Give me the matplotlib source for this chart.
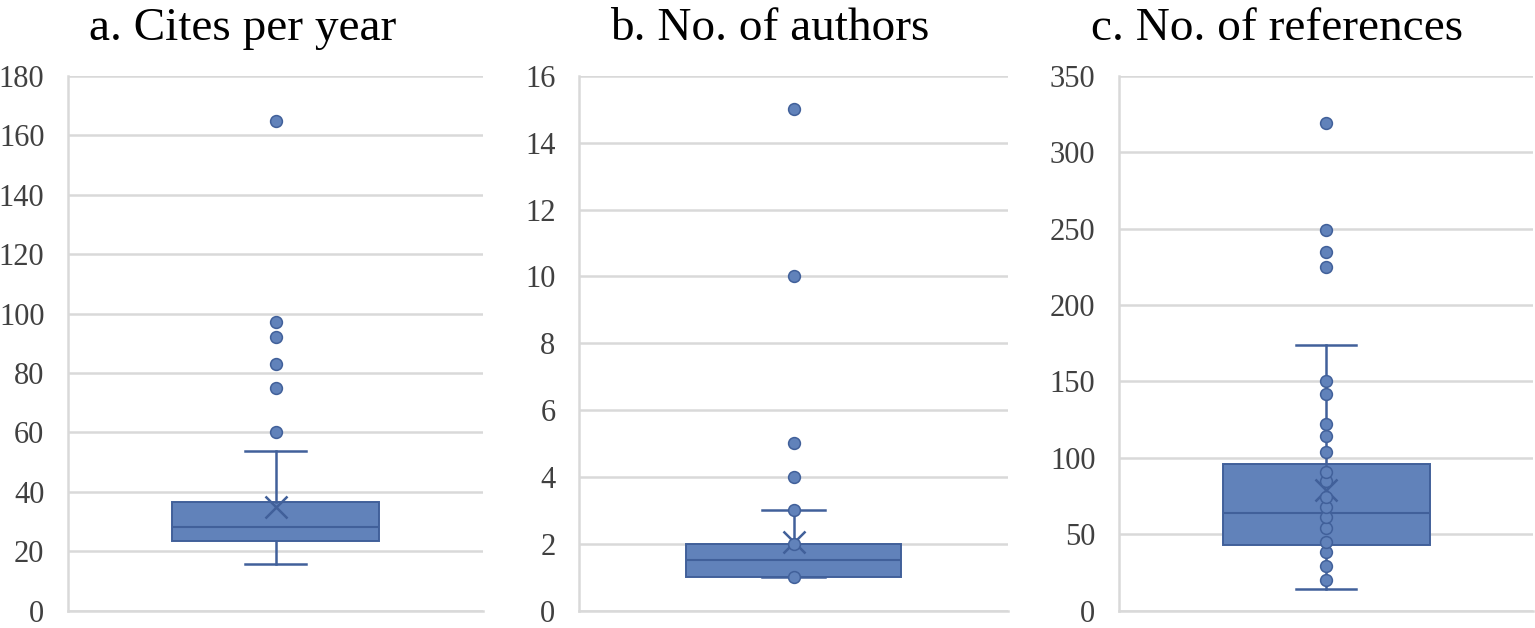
import matplotlib
matplotlib.use("Agg")
import matplotlib.pyplot as plt

# panel titles
titles = ["a. Cites per year", "b. No. of authors", "c. No. of references"]

# box statistics
q1 = [23.5, 1.0, 43]
med = [28, 1.5, 64]
q3 = [36.6, 2.0, 96]
whislo = [15.6, 1.0, 14]
whishi = [53.7, 3.0, 174]
means = [35.0, 2.05, 79]

# points outside the whiskers
fliers_a = [60, 75, 83, 92, 97, 165]
fliers_b = [4, 5, 10, 15]
fliers_c = [225, 235, 249, 319]

# inner points shown by the chart
inner_a = []
inner_b = [1, 2, 3]
inner_c = [20, 29, 38, 45, 54, 61, 68, 74, 85, 91, 104, 114, 122, 142, 150]

# axis ranges and ticks
ymax = [180, 16, 350]
ystep = [20, 2, 50]

FILL = "#6182BA"
EDGE = "#41609A"
GRID = "#D9D9D9"

plt.rcParams["font.family"] = ["Liberation Serif", "DejaVu Serif"]

fig = plt.figure(figsize=(15.35, 6.28), dpi=100)

W, H = 1535, 628
boxes_px = [(68, 483), (579, 1008), (1119, 1533)]
title_x = [243, 770, 1277]
top_px, bot_px = 76, 610.5

fliers = [fliers_a, fliers_b, fliers_c]
inner = [inner_a, inner_b, inner_c]

for i in range(3):
    l, r = boxes_px[i]
    ax = fig.add_axes([l / W, 1 - bot_px / H, (r - l) / W, (bot_px - top_px) / H])

    stats = [{
        "q1": q1[i], "med": med[i], "q3": q3[i],
        "whislo": whislo[i], "whishi": whishi[i],
        "mean": means[i], "fliers": fliers[i],
    }]
    ax.bxp(stats, positions=[1], widths=0.5, capwidths=0.145,
           patch_artist=True, showmeans=True,
           boxprops=dict(facecolor=FILL, edgecolor=EDGE, linewidth=1.4),
           medianprops=dict(color=EDGE, linewidth=1.5),
           whiskerprops=dict(color=EDGE, linewidth=1.8),
           capprops=dict(color=EDGE, linewidth=1.8),
           flierprops=dict(marker="o", markerfacecolor=FILL, markeredgecolor=EDGE,
                           markersize=8.5, markeredgewidth=1.1),
           meanprops=dict(marker="x", markeredgecolor=EDGE, markersize=16,
                          markeredgewidth=1.8),
           zorder=2)
    if inner[i]:
        ax.plot([1] * len(inner[i]), inner[i], "o", markerfacecolor=FILL,
                markeredgecolor=EDGE, markersize=8.5, markeredgewidth=1.1, zorder=3)

    ax.set_xlim(0.5, 1.5)
    ax.set_ylim(0, ymax[i])
    ax.set_yticks(range(0, ymax[i] + 1, ystep[i]))
    ax.set_xticks([])
    ax.yaxis.grid(True, color=GRID, linewidth=1.8)
    ax.set_axisbelow(True)
    for s in ["top", "right"]:
        ax.spines[s].set_visible(False)
    for s in ["left", "bottom"]:
        ax.spines[s].set_color(GRID)
        ax.spines[s].set_linewidth(1.8)
    ax.tick_params(axis="y", length=0, pad=17, labelsize=22, labelcolor="#404040")

    fig.text(title_x[i] / W, 1 - 40 / H, titles[i], ha="center", va="baseline",
             fontsize=34, color="black")

fig.savefig("out.png", dpi=100)
